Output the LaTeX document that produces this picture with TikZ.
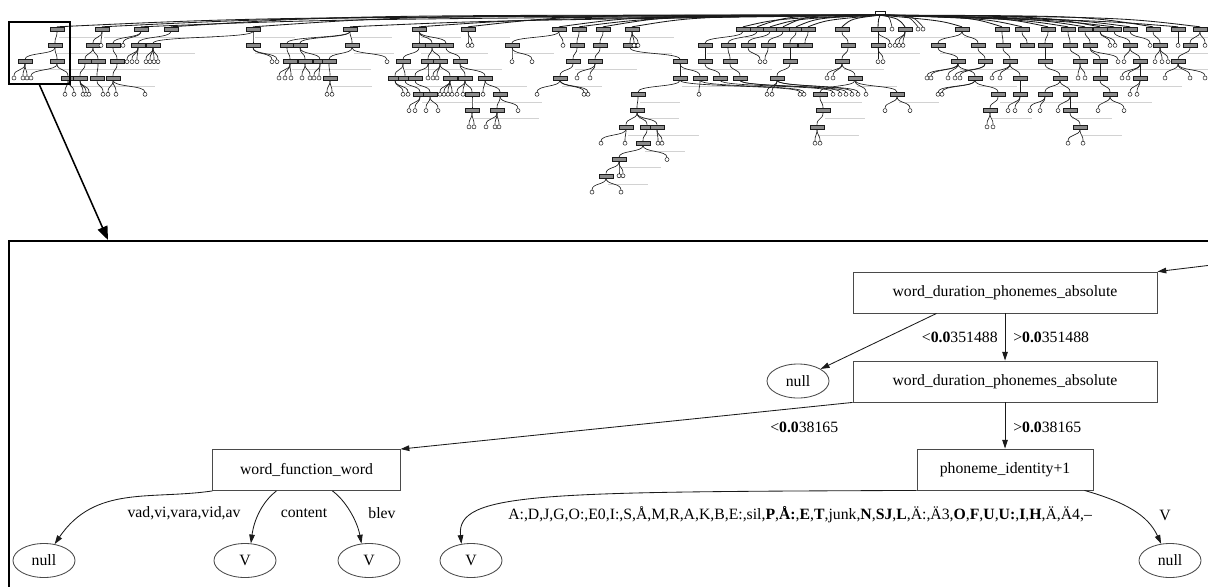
\documentclass[tikz,border=0pt]{standalone}
\usepackage{fontspec}
\setmainfont{Liberation Serif}
\usetikzlibrary{arrows.meta,calc,fit,shapes.geometric}
\definecolor{ink}{HTML}{1A1A1A}
\definecolor{frame}{HTML}{4A4A4A}
\definecolor{barfill}{HTML}{8A8A8A}
\definecolor{faint}{HTML}{D2D2D2}

\tikzset{
  bar/.style={draw=ink,fill=barfill,minimum width=3.6mm,minimum height=1mm,inner sep=0pt,line width=0.4pt},
  leaf/.style={circle,draw=ink,fill=white,minimum size=1mm,inner sep=0pt,line width=0.35pt},
  twig/.style={ink,line width=0.45pt},
  attr/.style={draw=frame,minimum height=1.025cm,inner sep=2pt,line width=0.6pt},
  cls/.style={ellipse,draw=frame,minimum width=1.55cm,minimum height=0.85cm,inner sep=0pt,line width=0.6pt},
  arr/.style={ink,line width=0.6pt,-{Triangle[length=2.2mm,width=1.4mm]}},
  lbl/.style={inner sep=0pt}
}

\begin{document}
\begin{tikzpicture}[x=0.025cm,y=-0.025cm,font=\fontsize{11.2}{13.4}\selectfont]
\useasboundingbox (0,0) rectangle (1208,586);

% overview of the full tree
\node[bar,fill=white,minimum width=2.6mm] (R) at (880,12.8) {};
\foreach \n/\x in {a1/57,a2/102,a3/141,a4/171,a5/253,a6/350,a7/419,a8/468,a9/559,a10/579,a11/603,a12/632,a13/743,a14/757,a15/770,a16/783,a17/796,a18/808,a19/842,a20/878,a21/905,a22/962,a23/1002,a24/1022,a25/1048,a26/1068,a27/1085,a28/1100,a29/1114,a30/1130,a31/1153,a32/1178,a33/1200} {
  \node[bar] (\n) at (\x,29.1) {};
  \draw[twig,line width=0.6pt] (R.south) .. controls ($(\n.north |- R.south)!0.25!(R.south)+(0,{mod(\x,9)*0.7})$) .. (\n.north);
  \draw[faint,line width=0.4pt] ($(\n)+(2,8)$) -- ++(40,0);
}
\foreach \x [count=\i] in {892,918,923} {
  \node[leaf] (rl\i) at (\x,29.1) {};
  \draw[twig] (R.south) .. controls ($(rl\i.north |- R.south)!0.25!(R.south)$) .. (rl\i.north);
}
\foreach \n/\x/\r/\p in {b1/55/2/a1,b2/93/2/a2,b3/113/2/a3,b4/138/2/a4,b5/153/2/a5,b6/253/2/a5,b7/287/2/a6,b8/300/2/a6,b9/352/2/a6,b10/419/2/a7,b11/432/2/a7,b12/446/2/a7,b13/512/2/a9,b14/577/2/a10,b15/600/2/a11,b16/630/2/a12,b17/705/2/a13,b18/728/2/a14,b19/748/2/a15,b20/768/2/a16,b21/790/2/a17,b22/805/2/a18,b23/848/2/a19,b24/878/2/a20,b25/938/2/a22,b26/978/2/a22,b27/1003/2/a23,b28/1027/2/a24,b29/1045/2/a25,b30/1070/2/a26,b31/1090/2/a27,b32/1130/2/a29,b33/1160/2/a31,b34/1190/2/a33,
  c1/25/3/b1,c2/57/3/b1,c3/85/3/b2,c4/98/3/b2,c5/117/3/b3,c6/290/3/b7,c7/305/3/b8,c8/320/3/b8,c9/329/3/b9,c10/403/3/b10,c11/428/3/b11,c12/440/3/b11,c13/460/3/b12,c14/573/3/b14,c15/595/3/b15,c16/680/3/b16,c17/705/3/b17,c18/730/3/b18,c19/790/3/b21,c20/842/3/b23,c21/958/3/b25,c22/985/3/b26,c23/1010/3/b27,c24/1045/3/b29,c25/1080/3/b30,c26/1100/3/b31,c27/1140/3/b32,c28/1178/3/b34,
  d1/68/4/c2,d2/80/4/c3,d3/97/4/c4,d4/113/4/c5,d5/330/4/c9,d6/395/4/c10,d7/405/4/c10,d8/415/4/c11,d9/450/4/c12,d10/465/4/c13,d11/485/4/c13,d12/560/4/c14,d13/680/4/c16,d14/700/4/c16,d15/720/4/c17,d16/740/4/c18,d17/777/4/c19,d18/855/4/c20,d19/975/4/c21,d20/1020/4/c23,d21/1060/4/c24,d22/1100/4/c26,d23/1140/4/c27,
  e1/420/5/d7,e2/430/5/d8,e3/472/5/d10,e4/500/5/d11,e5/638/5/d13,e6/820/5/d18,e7/897/5/d18,e8/998/5/d19,e9/1020/5/d20,e10/1045/5/d21,e11/1070/5/d21,e12/1110/5/d22,
  f1/472/6/e3,f2/497/6/e4,f3/637/6/e5,f4/823/6/e6,f5/990/6/e8,f6/1070/6/e11,
  g1/626/7/f3,g2/647/7/f3,g3/657/7/f3,g4/817/7/f4,g5/1080/7/f6,
  h1/643/8/g2,i1/619/9/h1,j1/606/10/i1} {
  \node[bar] (\n) at (\x,{12.8+16.3*\r}) {};
  \draw[twig] (\p.south) .. controls +(0,7) and +(0,-7) .. (\n.north);
  \draw[faint,line width=0.4pt] ($(\n)+(2,8)$) -- ++(40,0);
}
\foreach \x/\r/\p [count=\i] in {101/2/a2,123/2/a3,468/2/a8,472/2/a8,563/2/a9,634/2/a12,638/2/a12,890/2/a20,895/2/a21,899/2/a21,903/2/a21,1110/2/a28,1115/2/a28,1150/2/a30,1178/2/a32,1205/2/a33,
  127/3/b4,132/3/b4,137/3/b4,146/3/b5,150/3/b5,154/3/b5,158/3/b5,272/3/b6,277/3/b6,387/3/b9,512/3/b13,532/3/b13,760/3/b19,765/3/b20,878/3/b24,883/3/b24,1118/3/b31,1124/3/b32,1155/3/b33,1162/3/b33,1168/3/b33,
  14/4/c1,23/4/c1,27/4/c1,31/4/c2,279/4/c6,285/4/c6,291/4/c6,302/4/c7,310/4/c7,314/4/c8,319/4/c8,428/4/c11,433/4/c12,437/4/c12,577/4/c15,590/4/c15,827/4/c20,833/4/c20,927/4/c21,931/4/c21,948/4/c21,955/4/c22,960/4/c22,992/4/c23,1000/4/c23,1078/4/c25,1085/4/c25,1122/4/c27,1128/4/c27,1165/4/c28,1190/4/c28,1205/4/c28,
  65/5/d1,74/5/d1,83/5/d2,86/5/d2,89/5/d2,103/5/d3,108/5/d4,116/5/d4,145/5/d4,327/5/d5,332/5/d5,403/5/d6,408/5/d6,440/5/d9,444/5/d9,448/5/d9,452/5/d9,457/5/d10,463/5/d10,483/5/d11,537/5/d12,584/5/d12,588/5/d12,699/5/d14,767/5/d17,772/5/d17,800/5/d13,804/5/d14,833/5/d15,840/5/d16,846/5/d16,852/5/d17,858/5/d17,866/5/d18,938/5/d19,942/5/d19,1130/5/d23,1137/5/d23,
  409/6/e1,415/6/e1,426/6/e2,438/6/e2,518/6/e4,885/6/e7,910/6/e7,1008/6/e9,1015/6/e9,1030/6/e10,1040/6/e10,1058/6/e11,1098/6/e12,1124/6/e12,
  469/7/f1,474/7/f1,486/7/f2,495/7/f2,499/7/f2,987/7/f5,993/7/f5,
  601/8/g1,625/8/g1,658/8/g3,662/8/g3,815/8/g4,820/8/g4,1068/8/g5,1083/8/g5,
  667/9/h1,619/10/i1,623/10/i1,592/11/j1,621/11/j1} {
  \node[leaf] (l\i) at (\x,{12.8+16.3*\r}) {};
  \draw[twig] (\p.south) .. controls +(0,7) and +(0,-7) .. (l\i.north);
}

% magnified part
\node[draw,line width=1.4pt,inner sep=0pt,fit={(9,22) (70,84)}] (win) {};
\draw[line width=1.4pt] (1215,241) -- (9,241) -- (9,595);
\coordinate (zoomtip) at (108,240);
\draw[line width=1.1pt,-{Triangle[length=3.4mm,width=2.6mm]}] (win.south) -- (zoomtip);

\node[attr,minimum width=7.6cm] (wdpa1) at (1005,292.5) {word\_duration\_phonemes\_absolute};
\node[attr,minimum width=7.6cm] (wdpa2) at (1005,381.5) {word\_duration\_phonemes\_absolute};
\node[cls] (null1) at (798,381) {null};
\node[attr,minimum width=4.68cm] (wff) at (306.5,470) {word\_function\_word};
\node[attr,minimum width=4.4cm] (pi1) at (1005,469.5) {phoneme\_identity+1};
\node[cls] (nullL) at (44,560.5) {null};
\node[cls] (V1) at (245,560.5) {V};
\node[cls] (V2) at (369,560.5) {V};
\node[cls] (V3) at (471,560.5) {V};
\node[cls] (nullR) at (1170,560.5) {null};

\coordinate (inR) at (1212,265);
\draw[arr] (inR) -- (wdpa1.north east);
\draw[arr] ($(wdpa1.south west)+(84,0)$) -- (null1.28);
\draw[arr] (wdpa1) -- (wdpa2);
\draw[arr] (wdpa2.south west) -- (wff.north east);
\draw[arr] (wdpa2) -- (pi1);
\draw[arr] (pi1.south west) .. controls (540,492) and (456,492) .. (V3.120);
\draw[arr] ($(pi1.south east)+(-9,0)$) .. controls (1125,502) and (1148,515) .. (nullR.118);
\draw[arr] (wff.south west) .. controls (150,500) and (95,485) .. (nullL.57);
\draw[arr] ($(wff.south west)+(64,0)$) .. controls (262,502) and (254,520) .. (V1.71);
\draw[arr] ($(wff.south west)+(120,0)$) .. controls (345,500) and (357,520) .. (V2.114);

\node[lbl,anchor=east] (lo1) at (998,337) {<\textbf{0.0}351488};
\node[lbl,anchor=west] (hi1) at (1013,337) {>\textbf{0.0}351488};
\node[lbl,anchor=west] (lo2) at (770,427) {<\textbf{0.0}38165};
\node[lbl,anchor=west] (hi2) at (1013,427) {>\textbf{0.0}38165};
\node[lbl,anchor=west] (phset) at (508,515) {A:,D,J,G,O:,E0,I:,S,Å,M,R,A,K,B,E:,sil,\textbf{P},\textbf{Å:},\textbf{E},\textbf{T},junk,\textbf{N},\textbf{SJ},\textbf{L},Ä:,Ä3,\textbf{O},\textbf{F},\textbf{U},\textbf{U:},\textbf{I},\textbf{H},Ä,Ä4,–};
\node[lbl] (vR) at (1165,515) {V};
\node[lbl] (fw) at (184,513) {vad,vi,vara,vid,av};
\node[lbl] (ct) at (304,513) {content};
\node[lbl] (bl) at (382,513) {blev};
\end{tikzpicture}
\end{document}
